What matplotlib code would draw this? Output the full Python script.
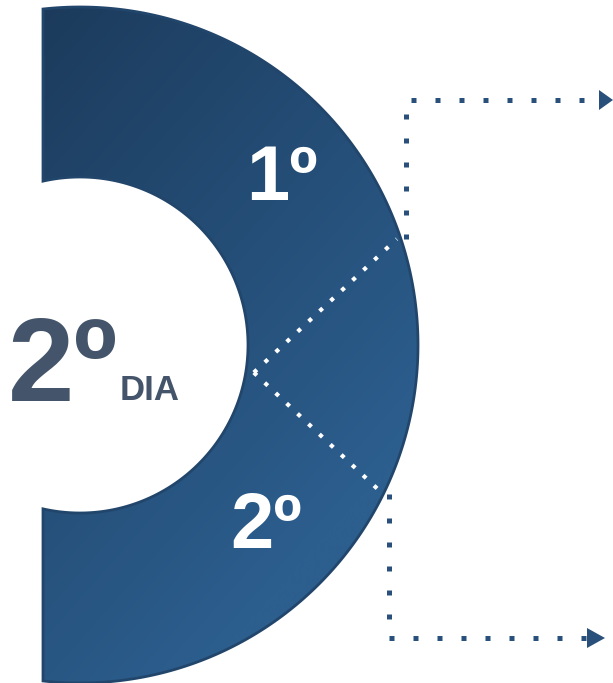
import matplotlib
matplotlib.use("Agg")
import matplotlib.pyplot as plt
import numpy as np
from matplotlib.path import Path
from matplotlib.patches import PathPatch, Polygon

# === DATA ===
segment_labels = ["1º", "2º"]
day_number = "2º"
day_word = "DIA"
# divider angles (degrees, 0 = right, positive = up)
divider_angles = [18.5, -26.0]
joint_angle = -9.0

# === GEOMETRY (pixel coords, y down) ===
W, H = 613, 683
cx, cy = 80, 345
R_out, R_in = 338, 168
x_cut = 43

fig = plt.figure(figsize=(W / 100, H / 100), dpi=100)
ax = fig.add_axes([0, 0, 1, 1])
ax.set_xlim(0, W)
ax.set_ylim(H, 0)
ax.axis("off")


def pt(r, deg):
    a = np.radians(deg)
    return cx + r * np.cos(a), cy - r * np.sin(a)


a_out = np.degrees(np.arccos((x_cut - cx) / R_out))
a_in = np.degrees(np.arccos((x_cut - cx) / R_in))
t_out = np.linspace(a_out, -a_out, 300)
t_in = np.linspace(-a_in, a_in, 200)
outer = np.array([pt(R_out, t) for t in t_out])
inner = np.array([pt(R_in, t) for t in t_in])
verts = np.vstack([outer, inner, outer[:1]])
codes = [Path.MOVETO] + [Path.LINETO] * (len(verts) - 2) + [Path.CLOSEPOLY]
shape = PathPatch(Path(verts, codes), facecolor="none", edgecolor="#22466b",
                  linewidth=2.0, zorder=3)
ax.add_patch(shape)

# gradient fill clipped to the shape
c0 = np.array([0x1c, 0x3b, 0x5c]) / 255
c1 = np.array([0x2c, 0x5e, 0x8e]) / 255
gx, gy = np.meshgrid(np.linspace(0, 1, 200), np.linspace(0, 1, 200))
g = np.clip((gx * 0.5 + gy * 0.8), 0, 1)[..., None]
img = c0 * (1 - g) + c1 * g
im = ax.imshow(img, extent=(x_cut, cx + R_out, cy + R_out, cy - R_out),
               zorder=2, interpolation="bilinear")
clip = PathPatch(Path(verts, codes), transform=ax.transData, facecolor="none",
                 edgecolor="none")
ax.add_patch(clip)
im.set_clip_path(clip)

# white dotted dividers
jx, jy = pt(R_in + 8, joint_angle)
ends = []
for ang in divider_angles:
    ex, ey = pt(R_out - 4, ang)
    ends.append((ex, ey))
    ax.plot([jx, ex], [jy, ey], color="white", lw=3.0,
            linestyle=(0, (1, 2.6)), solid_capstyle="butt",
            dash_capstyle="butt", zorder=4)

# dark dotted connectors with arrows
dot_color = "#29507a"
ux, uy = 406, 100
lx, ly = 389, 638
ax.plot([ux, ux, 600], [ends[0][1], uy, uy], color=dot_color, lw=3.6,
        linestyle=(0, (1, 3.8)), dash_capstyle="butt", zorder=1)
ax.plot([lx, lx, 588], [ends[1][1] + 3, ly, ly], color=dot_color, lw=3.6,
        linestyle=(0, (1, 3.8)), dash_capstyle="butt", zorder=1)
ax.add_patch(Polygon([[599, 90], [613, 100], [599, 110]], closed=True,
                     facecolor=dot_color, edgecolor="none", zorder=1))
ax.add_patch(Polygon([[587, 628], [605, 638], [587, 648]], closed=True,
                     facecolor=dot_color, edgecolor="none", zorder=1))

# segment labels
font = ["Liberation Sans", "DejaVu Sans"]
ax.text(282, 200, segment_labels[0], color="white", fontsize=56,
        fontweight="bold", family=font, ha="center", va="baseline", zorder=5)
ax.text(266, 548, segment_labels[1], color="white", fontsize=56,
        fontweight="bold", family=font, ha="center", va="baseline", zorder=5)

# day label
ax.text(8, 401, day_number, color="#44546a", fontsize=86,
        fontweight="bold", family=font, ha="left", va="baseline", zorder=5)
ax.text(120, 400, day_word, color="#44546a", fontsize=25,
        fontweight="bold", family=font, ha="left", va="baseline", zorder=5)

fig.savefig("out.png", dpi=100, facecolor="white")
